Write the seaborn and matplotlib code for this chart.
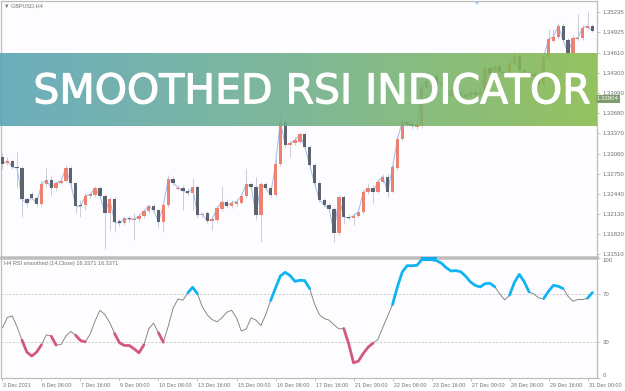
import numpy as np
import pandas as pd
import matplotlib
matplotlib.use("Agg")
import matplotlib.pyplot as plt
import matplotlib.patheffects as pe
from matplotlib.transforms import ScaledTranslation
from matplotlib.patches import Rectangle, Polygon
import seaborn as sns

# ---------------- data ----------------
open_ = [1.33013,1.32911,1.32947,1.32850,1.32834,1.32357,1.32434,1.32381,1.32289,1.32588,
         1.32659,1.32526,1.32608,1.32639,1.32834,1.32603,1.32254,1.32264,1.32407,1.32423,
         1.32526,1.32412,1.32150,1.32357,1.32023,1.31987,1.32064,1.32038,1.32049,1.32100,
         1.32177,1.32254,1.32187,1.32003,1.32269,1.32665,1.32520,1.32535,1.32485,1.32449,
         1.32541,1.32110,1.32141,1.32023,1.32038,1.32208,1.32320,1.32254,1.32285,1.32305,
         1.32407,1.32592,1.32551,1.32115,1.32592,1.32526,1.32423,1.32900,1.33551,1.33193,
         1.33219,1.33243,1.33357,1.33167,1.32885,1.32603,1.32346,1.32269,1.32208,1.31842,
         1.32388,1.32089,1.32064,1.32100,1.32161,1.32465,1.32526,1.32474,1.32628,1.32705,
         1.32474,1.32834,1.33280,1.33551,1.33516,1.33477,1.33485,1.34070,1.34177,1.34254,
         1.34131,1.34162,1.33946,1.34039,1.33993,1.33962,1.33931,1.34008,1.33962,1.34008,
         1.34378,1.34285,1.34409,1.34316,1.34316,1.34439,1.34562,1.34347,1.34316,1.34285,
         1.34254,1.34116,1.34547,1.34797,1.34850,1.35028,1.34808,1.34603,1.34819,1.34834,
         1.34988,1.35028]
close = [1.32900,1.32947,1.32850,1.32839,1.32357,1.32295,1.32381,1.32289,1.32588,1.32659,
         1.32526,1.32608,1.32643,1.32834,1.32603,1.32254,1.32246,1.32407,1.32434,1.32526,
         1.32407,1.32150,1.32357,1.32003,1.31987,1.32064,1.32049,1.32054,1.32100,1.32177,
         1.32254,1.32187,1.32003,1.32269,1.32665,1.32612,1.32535,1.32485,1.32449,1.32541,
         1.32115,1.32131,1.32023,1.32049,1.32218,1.32320,1.32254,1.32305,1.32320,1.32407,
         1.32592,1.32551,1.32115,1.32592,1.32526,1.32423,1.32900,1.33551,1.33193,1.33219,
         1.33269,1.33357,1.33167,1.32885,1.32603,1.32346,1.32269,1.32208,1.31842,1.32388,
         1.32089,1.32064,1.32105,1.32161,1.32469,1.32526,1.32474,1.32628,1.32705,1.32474,
         1.32850,1.33280,1.33551,1.33516,1.33485,1.33500,1.34070,1.34177,1.34254,1.34131,
         1.34162,1.33962,1.34039,1.33993,1.33962,1.33931,1.34008,1.33962,1.34008,1.34378,
         1.34285,1.34409,1.34316,1.34300,1.34439,1.34562,1.34347,1.34285,1.34270,1.34254,
         1.34116,1.34547,1.34819,1.34859,1.35028,1.34808,1.34603,1.34834,1.34844,1.34998,
         1.35024,1.34951]
high = [1.33070,1.33013,1.32977,1.33090,1.32870,1.32392,1.32469,1.32407,1.32654,1.32839,
        1.32731,1.32623,1.32685,1.32885,1.32870,1.32623,1.32346,1.32454,1.32469,1.32562,
        1.32562,1.32438,1.32392,1.32392,1.32054,1.32100,1.32100,1.32146,1.32131,1.32208,
        1.32285,1.32285,1.32208,1.32300,1.32731,1.32715,1.32577,1.32577,1.32515,1.32685,
        1.32577,1.32161,1.32177,1.32084,1.32254,1.32562,1.32361,1.32346,1.32361,1.32438,
        1.32823,1.32623,1.32700,1.32623,1.32623,1.32562,1.32962,1.33731,1.33593,1.33254,
        1.33316,1.33393,1.33393,1.33193,1.32916,1.32639,1.32377,1.32300,1.32238,1.32423,
        1.32423,1.32131,1.32146,1.32192,1.32500,1.32608,1.32577,1.32669,1.32746,1.32746,
        1.32885,1.33331,1.33624,1.33608,1.33562,1.33546,1.34116,1.34224,1.34316,1.34316,
        1.34224,1.34193,1.34070,1.34100,1.34039,1.34008,1.34054,1.34070,1.34039,1.34439,
        1.34439,1.34454,1.34454,1.34362,1.34485,1.34624,1.34593,1.34378,1.34347,1.34316,
        1.34285,1.34577,1.34978,1.34978,1.35070,1.35070,1.34839,1.34885,1.35208,1.35039,
        1.35239,1.35054]
low = [1.32823,1.32885,1.32823,1.32531,1.32084,1.32238,1.32361,1.32254,1.32254,1.32546,
       1.32423,1.32500,1.32592,1.32623,1.32577,1.32146,1.32084,1.32192,1.32377,1.32392,
       1.32377,1.31592,1.31884,1.31853,1.31946,1.31961,1.32007,1.31730,1.32007,1.32069,
       1.32146,1.32161,1.31915,1.31858,1.32238,1.32577,1.32500,1.32192,1.32423,1.32192,
       1.32069,1.32084,1.31992,1.31884,1.32007,1.32177,1.32223,1.32223,1.32254,1.32285,
       1.32377,1.32531,1.32038,1.31704,1.32500,1.32392,1.32392,1.32870,1.33162,1.33013,
       1.33193,1.33223,1.33146,1.32854,1.32577,1.32315,1.32238,1.32177,1.31704,1.31807,
       1.31977,1.32038,1.31961,1.32069,1.32131,1.32438,1.32300,1.32454,1.32608,1.32392,
       1.32454,1.32808,1.33254,1.33485,1.33439,1.33439,1.33454,1.34039,1.34131,1.34100,
       1.34070,1.33931,1.33916,1.33962,1.33916,1.33885,1.33900,1.33931,1.33931,1.33977,
       1.34254,1.34254,1.34285,1.34254,1.34285,1.34409,1.34316,1.34254,1.34239,1.34224,
       1.34085,1.34085,1.34516,1.34778,1.34824,1.34778,1.34562,1.34562,1.34808,1.34808,
       1.34962,1.34931]
rsi = [41.6,50.2,51.5,42.4,31.4,21.5,18.2,21.5,27.5,35.8,
       34.7,27.3,27.8,34.7,38.6,35.5,31.1,30.0,36.6,47.4,
       56.2,52.6,46.0,36.9,29.2,27.0,27.0,24.2,20.9,27.5,
       40.8,45.5,37.5,29.7,43.0,57.9,65.6,64.5,70.6,75.3,
       69.8,59.0,52.4,48.5,46.6,49.9,54.6,56.2,49.9,38.9,
       40.8,49.9,48.0,43.5,52.6,64.2,74.7,84.7,87.7,84.9,
       80.2,81.1,80.8,74.2,61.5,52.6,49.3,48.0,44.1,40.8,
       41.1,28.6,12.6,14.0,20.4,25.6,28.9,32.0,41.9,51.3,
       60.9,75.6,88.0,93.2,93.2,93.5,98.2,98.2,98.2,97.4,
       95.4,91.6,88.8,89.1,88.2,84.4,79.7,76.7,75.6,78.3,
       78.6,75.6,69.8,64.8,68.7,79.4,86.0,80.0,71.4,69.8,
       66.4,65.9,72.0,76.9,76.1,74.2,67.8,63.7,65.1,65.1,
       66.2,70.9]
rsi_up_ranges = [(38, 40), (55, 63), (80, 101), (104, 108), (111, 115), (120, 121)]
rsi_down_ranges = [(4, 8), (10, 11), (15, 17), (23, 29), (32, 33), (70, 76)]
rsi_levels = [70, 30]
rsi_ticks = [100, 70, 30, 0]
price_ticks = [1.35235, 1.34925, 1.34610, 1.34300, 1.33990, 1.33680, 1.33370,
               1.33060, 1.32750, 1.32440, 1.32130, 1.31820, 1.31510]
bid_price = 1.33904
date_tick_bars = [0, 8, 16, 24, 32, 40, 48, 56, 64, 72, 80, 88, 96, 104, 112, 120]
date_labels = ["3 Dec 2021", "6 Dec 08:00", "7 Dec 16:00", "9 Dec 00:00", "10 Dec 08:00",
               "13 Dec 16:00", "15 Dec 00:00", "16 Dec 08:00", "17 Dec 16:00", "21 Dec 00:00",
               "22 Dec 08:00", "23 Dec 16:00", "27 Dec 00:00", "28 Dec 08:00", "29 Dec 16:00",
               "31 Dec 00:00"]
title_text = "SMOOTHED RSI INDICATOR"
symbol_text = "\u25bc GBPUSD,H4"
rsi_text = "H4 RSI smoothed (14,Close) 16.3371 16.3371"

# ---------------- style ----------------
sns.set_theme(style="white")
plt.rcParams['font.family'] = ['Liberation Sans', 'DejaVu Sans']
plt.rcParams['axes.unicode_minus'] = False

W, H = 625, 391
fig = plt.figure(figsize=(W / 100, H / 100), dpi=100)
fig.patch.set_facecolor("white")

def box(x0, y0, x1, y1):
    return [x0 / W, 1 - y1 / H, (x1 - x0) / W, (y1 - y0) / H]

ax = fig.add_axes(box(1.5, 1.0, 597, 256.5))
axr = fig.add_axes(box(1.5, 257.5, 597, 378), sharex=ax)

grey_txt = "#707070"
spine_c = "#bdbdbd"
bull_c = "#ef8171"
bear_c = "#5d636f"
wick_c = "#c9cdd8"

df = pd.DataFrame({"bar": np.arange(len(close)), "open": open_, "high": high,
                   "low": low, "close": close, "rsi": rsi})

# candles
ax.vlines(df["bar"], df["low"], df["high"], color=wick_c, lw=0.7, zorder=1)
sns.lineplot(data=df, x="bar", y="close", ax=ax, color="#9fbbe8", lw=0.7, zorder=2)
bull = df["close"] >= df["open"]
bottom = np.minimum(df["open"], df["close"])
height = np.maximum(np.abs(df["close"] - df["open"]), 0.00016)
ax.bar(df["bar"], height, bottom=bottom, width=0.68,
       color=np.where(bull, bull_c, bear_c), linewidth=0, zorder=3)

ax.set_xlim(-0.2, 121.94)
ax.set_ylim(1.31476, 1.35409)
ax.set_xlabel("")
ax.set_ylabel("")
ax.yaxis.tick_right()
ax.set_yticks(price_ticks)
ax.set_yticklabels([f"{v:.5f}" for v in price_ticks])
ax.tick_params(axis="y", which="both", right=True, direction="out", length=2.5, width=0.6,
               color=spine_c, labelsize=4.3, labelcolor=grey_txt, pad=1.5)
ax.tick_params(axis="x", bottom=False, labelbottom=False)
for s in ax.spines.values():
    s.set_color(spine_c)
    s.set_linewidth(0.9)
ax.spines["bottom"].set_linewidth(1.8)
ax.set_facecolor("#fdfdff")

# bid price label on the price scale
ax.text(1.0, bid_price, f"{bid_price:.5f}", transform=ax.get_yaxis_transform(),
        fontsize=4.3, color="white", ha="left", va="center", zorder=6, clip_on=False,
        bbox=dict(boxstyle="square,pad=0.25", fc="#7f9c6c", ec="none"))

fig.text(4 / W, 1 - 6 / H, symbol_text, fontsize=4.0, color=grey_txt, va="center", ha="left")
# small markers of the terminal window
fig.patches.append(Polygon([[474 / W, 1 - 1.5 / H], [480 / W, 1 - 1.5 / H], [477 / W, 1 - 4.5 / H]],
                           closed=True, fc="#a9c6ea", ec="none", transform=fig.transFigure,
                           figure=fig, zorder=10))
fig.patches.append(Rectangle((421 / W, 1 - 259 / H), 16 / W, 2.2 / H, fc="#12a8f0", ec="none",
                             transform=fig.transFigure, figure=fig, zorder=10))

# ---------------- RSI panel ----------------
sns.lineplot(data=df, x="bar", y="rsi", ax=axr, color="#808080", lw=0.65, zorder=3)
for a, b in rsi_up_ranges:
    seg = df.iloc[a:b + 1]
    sns.lineplot(data=seg, x="bar", y="rsi", ax=axr, color="#12b3f2", lw=2.0, zorder=4)
for a, b in rsi_down_ranges:
    seg = df.iloc[a:b + 1]
    sns.lineplot(data=seg, x="bar", y="rsi", ax=axr, color="#d4587c", lw=2.0, zorder=4)
for lv in rsi_levels:
    axr.axhline(lv, color="#c4c4c4", lw=0.6, ls=(0, (2.5, 2)), zorder=1)

axr.set_ylim(0, 100)
axr.set_xlabel("")
axr.set_ylabel("")
axr.yaxis.tick_right()
axr.set_yticks(rsi_ticks)
axr.set_yticklabels([str(v) for v in rsi_ticks])
axr.tick_params(axis="y", right=True, direction="out", length=2.5, width=0.6, color=spine_c,
                labelsize=4.3, labelcolor=grey_txt, pad=1.5)
for lab, v in zip(axr.get_yticklabels(), rsi_ticks):
    if v == 100:
        lab.set_verticalalignment("top")
    elif v == 0:
        lab.set_verticalalignment("bottom")
axr.set_xticks(date_tick_bars)
axr.set_xticklabels(date_labels)
axr.tick_params(axis="x", bottom=True, direction="out", length=2.5, width=0.6, color=spine_c,
                labelsize=3.9, labelcolor=grey_txt, pad=1.0)
off = ScaledTranslation(1.0 / 100, 0, fig.dpi_scale_trans)
for lab in axr.get_xticklabels():
    lab.set_horizontalalignment("left")
    lab.set_transform(lab.get_transform() + off)
for s in axr.spines.values():
    s.set_color(spine_c)
    s.set_linewidth(0.9)
axr.spines["top"].set_linewidth(1.8)
axr.set_facecolor("#fdfdff")
fig.text(4 / W, 1 - 263 / H, rsi_text, fontsize=4.0, color=grey_txt, va="center", ha="left")

# ---------------- banner ----------------
bn = fig.add_axes(box(0, 53, 597, 126))
stops = np.array([[0.35, 0.64, 0.71], [0.42, 0.68, 0.56], [0.53, 0.73, 0.29]])
t = np.linspace(0, 1, 400)
grad = np.stack([np.interp(t, [0, 0.45, 1], stops[:, k]) for k in range(3)], axis=-1)[None, :, :]
bn.imshow(grad, extent=[0, 1, 0, 1], aspect="auto", alpha=0.88, interpolation="bilinear")
bn.set_xlim(0, 1)
bn.set_ylim(0, 1)
bn.axis("off")
bn.patch.set_alpha(0)
bn.text(311.5 / 597, (126 - 103.3) / 73, title_text, ha="center", va="baseline",
        fontsize=29.5, color="white", family="DejaVu Sans",
        path_effects=[pe.withStroke(linewidth=0.8, foreground="white")])

fig.savefig("out.png", dpi=100, facecolor="white")
